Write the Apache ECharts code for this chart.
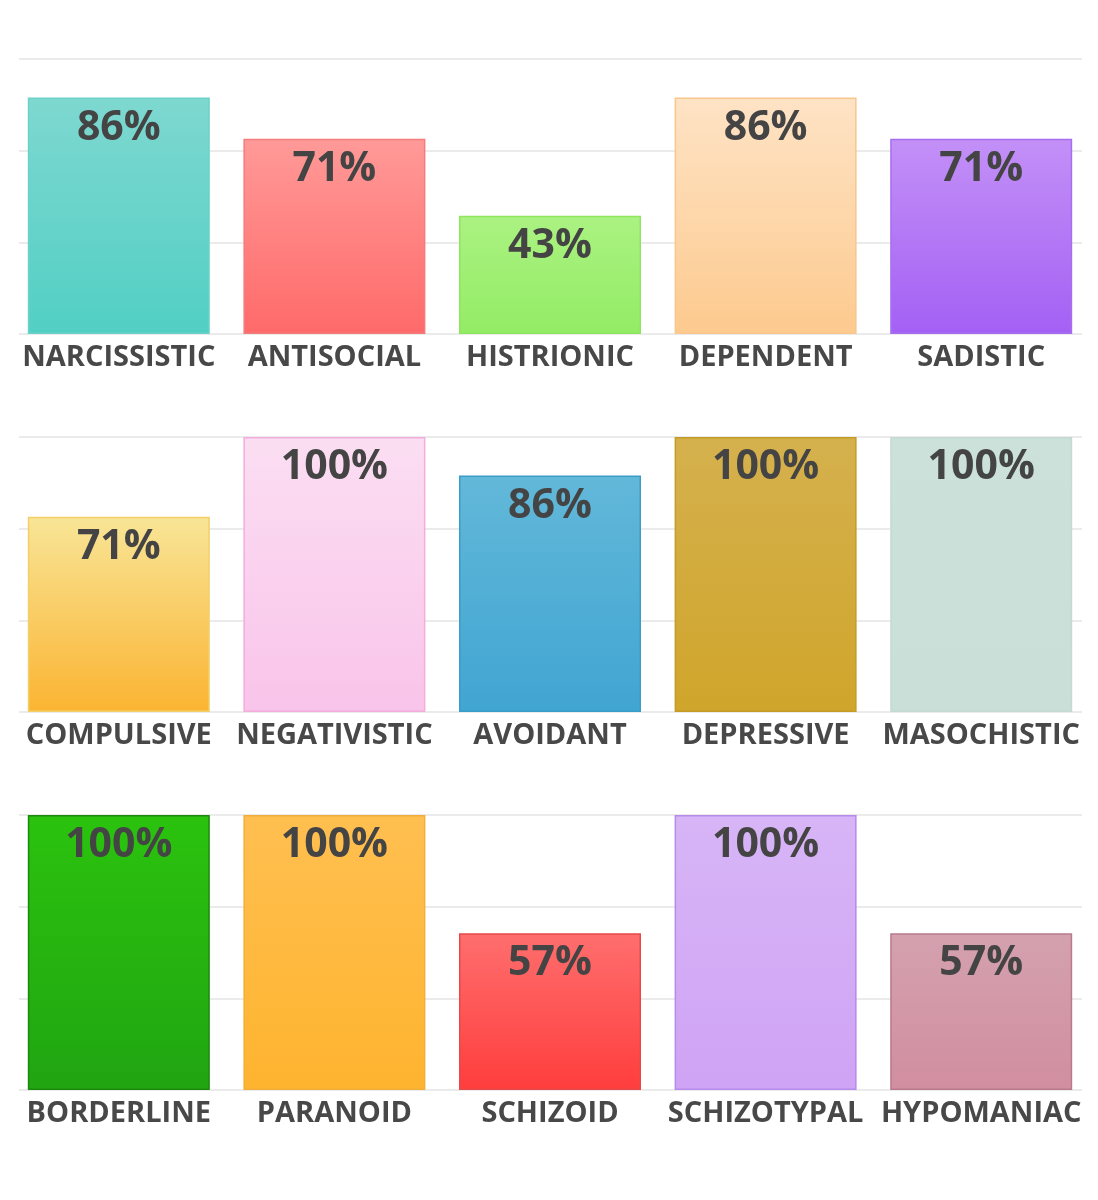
<!DOCTYPE html>
<html><head><meta charset="utf-8">
<script src="https://cdn.jsdelivr.net/npm/echarts@6/dist/echarts.min.js"></script>
<style>html,body{margin:0;padding:0;background:#fff}#c{width:1098px;height:1200px}</style>
</head><body><div id="c"></div>
<script>
const row1Categories = ['NARCISSISTIC','ANTISOCIAL','HISTRIONIC','DEPENDENT','SADISTIC'];
const row1Values = [86, 71, 43, 86, 71];
const row2Categories = ['COMPULSIVE','NEGATIVISTIC','AVOIDANT','DEPRESSIVE','MASOCHISTIC'];
const row2Values = [71, 100, 86, 100, 100];
const row3Categories = ['BORDERLINE','PARANOID','SCHIZOID','SCHIZOTYPAL','HYPOMANIAC'];
const row3Values = [100, 100, 57, 100, 57];

// style: [top colour, bottom colour, border]
const row1Colors = [['#7ed8d0','#52cfc4','#6cd2c9'],['#ff9a98','#ff6a6a','#f47c7c'],['#abf282','#93ec65','#8ee65f'],['#fee3c5','#fdca8f','#f9c68e'],['#c390f7','#a460f4','#a86ef0']];
const row2Colors = [['#f8e597','#fbb432','#f3cf6a'],['#fbdef2','#f9c4ea','#f3addc'],['#62b8d9','#41a5d2','#3a9cc8'],['#d5b14e','#d0a52b','#c59c26'],['#cbe1da','#c9dfd7','#c4dbd3']];
const row3Colors = [['#2bc30e','#21a512','#1b8a0c'],['#ffbf50','#ffb42f','#f2ae3a'],['#ff6e6e','#ff3d3d','#e94848'],['#d7b5f6','#cfa3f5','#b58bec'],['#d4a1af','#d18ea0','#b97a8b']];

const rows = [
  {cats: row1Categories, vals: row1Values, cols: row1Colors},
  {cats: row2Categories, vals: row2Values, cols: row2Colors},
  {cats: row3Categories, vals: row3Values, cols: row3Colors}
];
const tops = [59, 437, 815];
const H = 275;
const font = '"Open Sans", Roboto, sans-serif';

const grid = [], xAxis = [], yAxis = [], series = [];
rows.forEach((r, i) => {
  grid.push({left: 19, right: 16, top: tops[i], height: H});
  xAxis.push({gridIndex: grid.length-1, type: 'category', data: r.cats, show: false});
  yAxis.push({gridIndex: grid.length-1, type: 'value', min: 0, max: 100, interval: 100/3,
    axisLabel: {show: false}, axisLine: {show: false}, axisTick: {show: false},
    splitLine: {lineStyle: {color: '#ebebeb', width: 2}}});
  grid.push({left: 11, right: 9, top: tops[i], height: H});
  const gi = grid.length-1;
  xAxis.push({gridIndex: gi, type: 'category', data: r.cats,
    axisLine: {show: false}, axisTick: {show: false},
    axisLabel: {interval: 0, margin: 9, color: '#484848', fontFamily: font, fontWeight: 'bold', fontSize: 29}});
  yAxis.push({gridIndex: gi, type: 'value', min: 0, max: 100, interval: 100/3, show: false, splitLine: {show: false}});
  series.push({
    type: 'bar', xAxisIndex: gi, yAxisIndex: gi, barWidth: 182,
    data: r.vals.map((v, j) => ({value: v, itemStyle: {
      color: {type: 'linear', x: 0, y: 0, x2: 0, y2: 1, colorStops: [{offset: 0, color: r.cols[j][0]}, {offset: 1, color: r.cols[j][1]}]},
      borderColor: r.cols[j][2], borderWidth: 1.5}})),
    label: {show: true, position: 'insideTop', distance: 10, formatter: '{c}%',
      color: '#444', fontFamily: font, fontWeight: 'bold', fontSize: 41},
    silent: true, animation: false
  });
});

const chart = echarts.init(document.getElementById('c'), null, {renderer: 'canvas'});
chart.setOption({animation: false, grid, xAxis, yAxis, series});
</script></body></html>
